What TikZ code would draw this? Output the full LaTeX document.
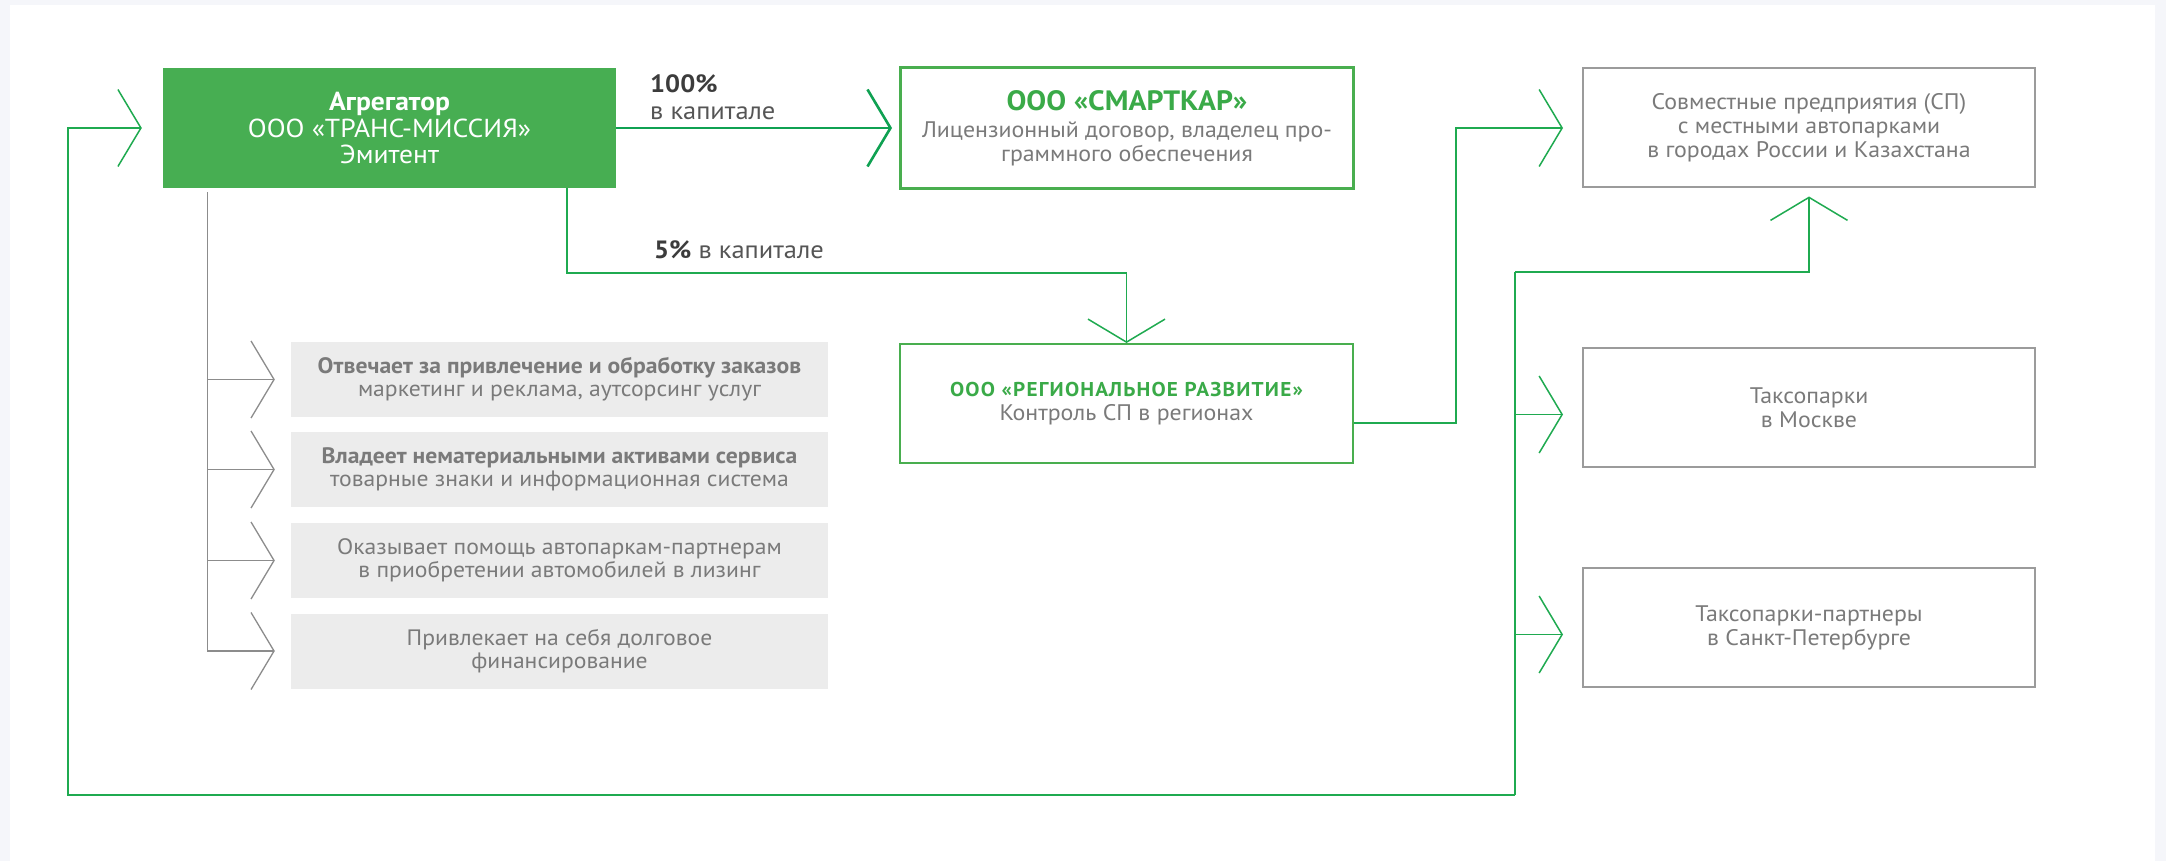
\documentclass[tikz,border=0pt]{standalone}
\usepackage{fontspec}
\setmainfont[FakeStretch=1.06]{PT Sans}
\usetikzlibrary{arrows.meta,calc}
\definecolor{bgc}{HTML}{F5F6FA}
\definecolor{gfill}{HTML}{47AE52}
\definecolor{lgreen}{HTML}{1FAA50}
\definecolor{dgreen}{HTML}{0FA152}
\definecolor{bgreen}{HTML}{49AE4F}
\definecolor{tgreen}{HTML}{3AAA48}
\definecolor{gborder}{HTML}{9B9B9B}
\definecolor{gboxfill}{HTML}{ECECEC}
\definecolor{gtext}{HTML}{7A7A7A}
\definecolor{glink}{HTML}{8C8C8C}
\definecolor{labdark}{HTML}{3C3C3C}
\definecolor{labmid}{HTML}{555555}
\newcommand\fsz[2]{\fontsize{#1pt}{#2pt}\selectfont}
\begin{document}
\begin{tikzpicture}[x=1pt,y=-1pt,
  barb/.style={-{Straight Barb[length=23pt,width=77pt]}},
  link/.style={draw=lgreen, line width=1.5pt, barb},
  glinkst/.style={draw=glink, line width=1.3pt},
  gbarb/.style={glinkst, barb},
  boxbase/.style={inner sep=0pt, align=center, minimum width=453pt, minimum height=120pt},
  aggbox/.style={boxbase, fill=gfill, text=white, font=\fsz{26}{26.5}},
  greenbox/.style={boxbase, draw=bgreen},
  greybox/.style={boxbase, draw=gborder, line width=2pt, minimum width=452pt, minimum height=119pt, text=gtext, font=\fsz{22.5}{24}},
  infobox/.style={inner sep=0pt, align=center, minimum width=537pt, minimum height=75pt, fill=gboxfill, text=gtext, font=\fsz{22.3}{23}},
  lab/.style={inner sep=0pt, font=\fsz{25}{27}}
]
\useasboundingbox (0,0) rectangle (2166,861);
\fill[bgc] (0,0) rectangle (2166,861);
\fill[white] (10,5) rectangle (2155,861);

% main nodes
\node[aggbox] (agg) at (389.5,128) {{\bfseries Агрегатор}\\ООО «ТРАНС-МИССИЯ»\\Эмитент};
\node[greenbox, line width=3pt, minimum height=121pt, text=gtext, font=\fsz{22.5}{24}] (smart) at (1127,128)
  {{\color{tgreen}\bfseries\fsz{28}{28}ООО «СМАРТКАР»}\\[3pt]
   Лицензионный договор, владелец про-\\
   граммного обеспечения};
\node[greybox] (sp) at (1809,128) {Совместные предприятия (СП)\\с местными автопарками\\в городах России и Казахстана};
\node[greenbox, line width=2pt, minimum height=119pt, text=gtext, font=\fsz{22.5}{23.5}] (reg) at (1126.5,403.5)
  {{\color{tgreen}\bfseries\fsz{20}{20}\addfontfeatures{LetterSpace=6}ООО «РЕГИОНАЛЬНОЕ РАЗВИТИЕ»}\\
   Контроль СП в регионах};
\node[greybox] (msk) at (1809,407.5) {Таксопарки\\в Москве};
\node[greybox] (spb) at (1809,627.5) {Таксопарки-партнеры\\в Санкт-Петербурге};

\node[infobox] (g1) at (559.5,379.5) {{\bfseries Отвечает за привлечение и обработку заказов}\\маркетинг и реклама, аутсорсинг услуг};
\node[infobox] (g2) at (559.5,469.5) {{\bfseries Владеет нематериальными активами сервиса}\\товарные знаки и информационная система};
\node[infobox] (g3) at (559.5,560.5) {Оказывает помощь автопаркам-партнерам\\в приобретении автомобилей в лизинг};
\node[infobox] (g4) at (559.5,651) {Привлекает на себя долговое\\финансирование};

% labels
\node[lab, anchor=west, align=left] (l100) at (650,97) {{\color{labdark}\bfseries 100\%}\\{\color{labmid}в капитале}};
\node[lab, anchor=west] (l5) at (654,250) {{\color{labdark}\bfseries 5\%} {\color{labmid}в капитале}};

% connectors
\draw[link, draw=dgreen, line width=2.6pt, shorten >=7pt] (agg.east) -- (agg.east -| smart.west);
\draw[link] ([xshift=-49pt]agg.south east) |- ($(reg.north)+(0,-70)$) -- (reg.north);
\draw[link, shorten >=19pt] ($(reg.east)+(0,19.5)$) -- ++(102,0) |- (sp.west);

\coordinate (bus) at (1515,272);
\coordinate (busbot) at (1515,795);
\coordinate (loopcorner) at (68,795);
\draw[link, -] (bus) -- (busbot);
\draw[link, shorten >=21pt] (busbot) -- (loopcorner) |- (agg.west);
\draw[link, shorten >=8pt] (bus) -| (sp.south);
\draw[link, shorten >=19pt] ($(bus |- msk.west)+(0,7)$) -- ($(msk.west)+(0,7)$);
\draw[link, shorten >=19pt] ($(bus |- spb.west)+(0,7)$) -- ($(spb.west)+(0,7)$);

\coordinate (gtop) at ([xshift=45pt,yshift=-4pt]agg.south west);
\draw[gbarb, shorten >=16pt] (gtop) |- (g4.west);
\draw[gbarb, shorten >=16pt] (gtop |- g1.west) -- (g1.west);
\draw[gbarb, shorten >=16pt] (gtop |- g2.west) -- (g2.west);
\draw[gbarb, shorten >=16pt] (gtop |- g3.west) -- (g3.west);
\end{tikzpicture}
\end{document}
